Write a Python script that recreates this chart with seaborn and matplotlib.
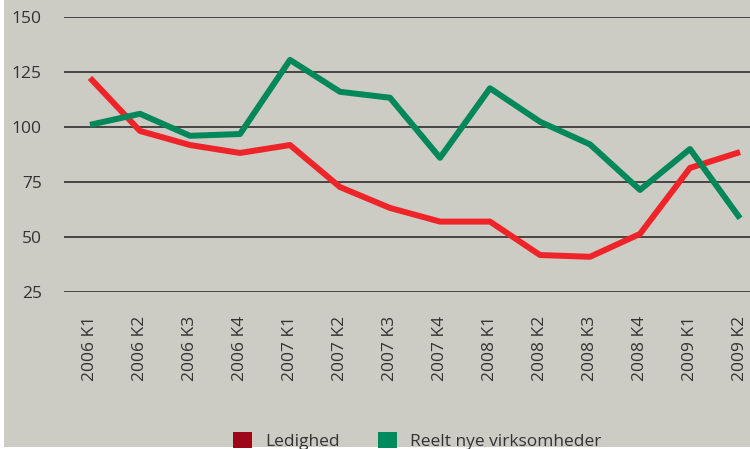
import matplotlib
matplotlib.use("Agg")
import matplotlib.pyplot as plt
import seaborn as sns
import pandas as pd
from matplotlib.patches import Patch, Rectangle

quarters = ["2006 K1", "2006 K2", "2006 K3", "2006 K4",
            "2007 K1", "2007 K2", "2007 K3", "2007 K4",
            "2008 K1", "2008 K2", "2008 K3", "2008 K4",
            "2009 K1", "2009 K2"]
ledighed = [122.3, 98.2, 91.8, 88.2, 91.8, 72.7, 63.2, 57.0, 57.0, 41.8, 41.0, 51.4, 81.4, 88.6]
reelt_nye = [101.0, 106.0, 96.0, 96.8, 130.5, 116.0, 113.3, 86.0, 117.6, 102.4, 92.1, 71.4, 90.0, 58.5]
series_names = ["Ledighed", "Reelt nye virksomheder"]
y_ticks = [25, 50, 75, 100, 125, 150]

line_colors = {"Ledighed": "#ee2428", "Reelt nye virksomheder": "#00875a"}
legend_colors = {"Ledighed": "#a0061a", "Reelt nye virksomheder": "#008a5e"}
bg = "#cccbc4"
txt = "#333333"

df = pd.DataFrame({
    "idx": list(range(len(quarters))) * 2,
    "value": ledighed + reelt_nye,
    "serie": [series_names[0]] * len(quarters) + [series_names[1]] * len(quarters),
})

sns.set_theme(style="white")
plt.rcParams["font.family"] = ["Open Sans", "DejaVu Sans"]

fig = plt.figure(figsize=(7.5, 4.49), dpi=100)
fig.patch.set_facecolor("white")
fig.patches.append(Rectangle((4 / 750, 2 / 449), 1, 1, transform=fig.transFigure,
                             facecolor=bg, edgecolor="none", zorder=-10))

ax = fig.add_axes([64 / 750, 1 - 292 / 449, 1 - 64 / 750, (292 - 17) / 449])
ax.set_facecolor(bg)
ax.patch.set_alpha(0)

for yt in y_ticks:
    ax.axhline(yt, color="#3a3a3a", lw=1.3, zorder=1)

sns.lineplot(data=df, x="idx", y="value", hue="serie", palette=line_colors,
             linewidth=4.3, ax=ax, legend=False, zorder=3)
for l in ax.get_lines()[-2:]:
    l.set_solid_capstyle("butt")

ax.set_xlim(-0.52, 13.2)
ax.set_ylim(25, 150)
ax.set_xticks(range(len(quarters)))
ax.set_xticklabels(quarters, rotation=90, fontsize=12.5, color=txt)
ax.set_yticks(y_ticks)
ax.set_yticklabels([str(v) for v in y_ticks], fontsize=12.5, color=txt)
ax.tick_params(axis="x", length=0, pad=17)
ax.tick_params(axis="y", length=0, pad=16)
ax.set_xlabel("")
ax.set_ylabel("")
for s in ax.spines.values():
    s.set_visible(False)

handles = [Patch(facecolor=legend_colors[n], edgecolor="none", label=n) for n in series_names]
fig.legend(handles=handles, loc="upper left", bbox_to_anchor=(224 / 750, 1 - 423 / 449),
           ncol=2, frameon=False, fontsize=12.5, handlelength=1.1, handleheight=1.1,
           handletextpad=0.75, columnspacing=2.2, borderpad=0, labelcolor=txt)

fig.savefig("out.png", dpi=100, facecolor=fig.get_facecolor())
